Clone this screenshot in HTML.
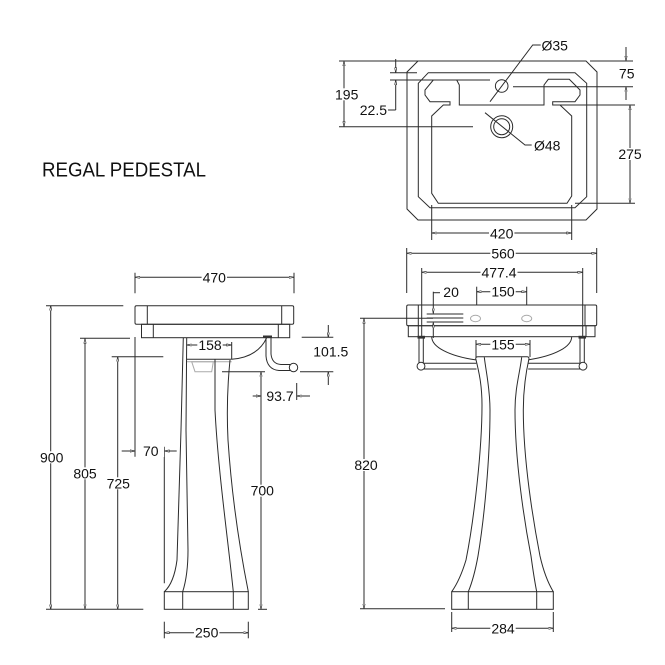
<!DOCTYPE html>
<html>
<head>
<meta charset="utf-8">
<style>
html,body{margin:0;padding:0;background:#fff;}
svg{display:block;}
line,path,polyline,polygon,rect,circle,ellipse{stroke:#2b2b2b;stroke-width:1;fill:none;}
text{font-family:"Liberation Sans",Arial,sans-serif;font-size:14px;fill:#111;}
.d{marker-start:url(#ar);marker-end:url(#ar);}
.e{marker-end:url(#ar);}
.bg{fill:#fff;stroke:none;}
.m{fill:#fff;stroke:#2b2b2b;stroke-width:0.7;}
.g{stroke:#aaa;}
.blk{fill:#333;stroke:none;}
.wf{fill:#fff;}
</style>
</head>
<body>
<svg width="665" height="665" viewBox="0 0 665 665" xmlns="http://www.w3.org/2000/svg">
<defs>
<marker id="ar" viewBox="0 0 5 2.6" refX="5" refY="1.3" markerWidth="5" markerHeight="2.6" markerUnits="userSpaceOnUse" orient="auto-start-reverse">
<path class="m" d="M0,0.2 L5,1.3 L0,2.4 Z"/>
</marker>
</defs>

<!-- TITLE -->
<text x="42" y="176.7" style="font-size:20.5px" textLength="164" lengthAdjust="spacingAndGlyphs">REGAL PEDESTAL</text>

<!-- ================= PLAN VIEW ================= -->
<polygon points="418,61 586,61 597,72 597,209 586,220 418,220 407,209 407,72"/>
<polygon points="428.3,72.7 575,72.7 586.7,83.3 586.7,196.7 575,207.7 430,207.7 418.3,196.7 418.3,83.3"/>
<path d="M459.3,85 L459.3,105 L544,105 L544,85 L548.3,79.3 L569.3,79.3 L580,90 L580,95 L575,101.7 L552.7,101.7 L552.7,105 L560,105 L571.7,116 L571.7,196 L567,203.3 L438.3,203.3 L431.7,193.3 L431.7,116 L443.3,105 L450,105 L450,101.7 L430,101.7 L425,95 L425,90 L433.3,80 L456.7,80 Z"/>
<circle cx="501.7" cy="86" r="6.3"/>
<circle cx="501.7" cy="126.7" r="11"/>
<circle cx="501.7" cy="126.7" r="8"/>
<polyline points="490,101.7 532.7,45 540.7,45"/>
<polyline points="485,112.7 525,145 531.7,145"/>

<!-- 195 -->
<line x1="339" y1="61" x2="418" y2="61"/>
<line x1="339" y1="126.7" x2="473" y2="126.7"/>
<line class="d" x1="344" y1="61" x2="344" y2="126.7"/>
<!-- 22.5 -->
<line x1="390" y1="72.7" x2="417" y2="72.7"/>
<line x1="390" y1="80" x2="490" y2="80"/>
<line class="e" x1="395.7" y1="59" x2="395.7" y2="72.7"/>
<line class="e" x1="395.7" y1="110" x2="395.7" y2="80"/>
<line x1="388" y1="110" x2="395.7" y2="110"/>
<!-- 75 -->
<line x1="590" y1="61" x2="633" y2="61"/>
<line x1="513" y1="86.7" x2="633" y2="86.7"/>
<line class="e" x1="626" y1="47" x2="626" y2="61"/>
<line class="e" x1="626" y1="100" x2="626" y2="86.7"/>
<!-- 275 -->
<line x1="560" y1="105" x2="635" y2="105"/>
<line x1="575" y1="203.3" x2="635" y2="203.3"/>
<line class="d" x1="630" y1="105" x2="630" y2="203.3"/>
<!-- 420 -->
<line x1="431.7" y1="205" x2="431.7" y2="240"/>
<line x1="571.7" y1="205" x2="571.7" y2="240"/>
<line class="d" x1="431.7" y1="233" x2="571.7" y2="233"/>

<!-- ================= FRONT VIEW ================= -->
<!-- 560 -->
<line x1="406.7" y1="248" x2="406.7" y2="293"/>
<line x1="596.7" y1="248" x2="596.7" y2="293"/>
<line class="d" x1="406.7" y1="253.3" x2="596.7" y2="253.3"/>
<!-- 477.4 -->
<line x1="421.7" y1="268" x2="421.7" y2="337"/>
<line x1="582.7" y1="268" x2="582.7" y2="337"/>
<line class="d" x1="421.7" y1="272.3" x2="582.7" y2="272.3"/>
<!-- 150 -->
<line x1="476.7" y1="286.7" x2="476.7" y2="305"/>
<line x1="526.7" y1="286.7" x2="526.7" y2="305"/>
<line class="d" x1="476.7" y1="291.7" x2="526.7" y2="291.7"/>

<!-- basin front -->
<rect x="406.7" y="305" width="190" height="20.7" rx="1.5"/>
<line x1="418.3" y1="305" x2="418.3" y2="325.7"/>
<line x1="585" y1="305" x2="585" y2="325.7"/>
<rect x="408.3" y="325.7" width="186.7" height="11"/>
<line x1="418.3" y1="325.7" x2="418.3" y2="336.7"/>
<line x1="586" y1="325.7" x2="586" y2="336.7"/>
<ellipse class="g" cx="475.5" cy="318.5" rx="5" ry="3.2"/>
<ellipse class="g" cx="526.7" cy="318.5" rx="5" ry="3.2"/>
<line x1="426.7" y1="314" x2="463.3" y2="314"/>
<line x1="426.7" y1="318" x2="463.3" y2="318"/>
<line x1="426.7" y1="322" x2="463.3" y2="322"/>
<!-- 20 -->
<line class="e" x1="433.3" y1="291.7" x2="433.3" y2="313.3"/>
<line class="e" x1="433.3" y1="338" x2="433.3" y2="322.7"/>
<line x1="433.3" y1="292.7" x2="440" y2="292.7"/>

<!-- bowl arc -->
<path d="M431.7,336.7 A70,25 0 0 0 475.7,359.9"/>
<path d="M529,359.7 A70,25 0 0 0 571.7,336.7"/>
<!-- towel rail -->
<line x1="419" y1="337" x2="419" y2="363"/>
<line x1="423.3" y1="337" x2="423.3" y2="363"/>
<line x1="580" y1="337" x2="580" y2="363"/>
<line x1="584.3" y1="337" x2="584.3" y2="363"/>
<rect class="blk" x="417.5" y="335.8" width="7.5" height="2.8"/>
<rect class="blk" x="578.5" y="335.8" width="7.5" height="2.8"/>
<line x1="424" y1="363.3" x2="476.3" y2="363.3"/>
<line x1="424" y1="369" x2="476.5" y2="369"/>
<line x1="528.5" y1="363.3" x2="580" y2="363.3"/>
<line x1="528.2" y1="369" x2="580" y2="369"/>
<circle class="wf" cx="421" cy="366.2" r="3.9"/>
<circle class="wf" cx="583" cy="366.2" r="3.9"/>
<!-- 155 -->
<line x1="476" y1="340" x2="476" y2="357"/>
<line x1="530" y1="340" x2="530" y2="357"/>
<line class="d" x1="476" y1="344.3" x2="530" y2="344.3"/>

<!-- pedestal front -->
<path d="M475.7,358.5 Q475.7,356.7 478,356.7 L527,356.7 Q529,356.7 529,358.5"/>
<path d="M475.7,358.5 C479,372 482,385 482,405 C482,450 474,520 466,560 Q460,580 451.7,591.7"/>
<path d="M484.3,357.2 C486,372 490,388 490,410 C490,460 484,520 478,556 Q474,578 468.3,591.7"/>
<path d="M521.7,357.2 C520,372 515,388 515,410 C515,460 524,520 531,556 Q534,578 536.7,591.7"/>
<path d="M529,358.5 C526,372 523.3,388 523.3,410 C523.3,460 533,520 540,556 Q545,578 553.3,591.7"/>
<rect x="451.7" y="591.7" width="101.6" height="17.6"/>
<line x1="468.3" y1="591.7" x2="468.3" y2="609.3"/>
<line x1="536.7" y1="591.7" x2="536.7" y2="609.3"/>
<!-- 820 -->
<line x1="360" y1="318.3" x2="433" y2="318.3"/>
<line x1="360" y1="608.8" x2="445" y2="608.8"/>
<line class="d" x1="364" y1="318.3" x2="364" y2="608.8"/>
<!-- 284 -->
<line x1="451.7" y1="612" x2="451.7" y2="632"/>
<line x1="553.3" y1="612" x2="553.3" y2="632"/>
<line class="d" x1="451.7" y1="628.3" x2="553.3" y2="628.3"/>

<!-- ================= SIDE VIEW ================= -->
<!-- 470 -->
<line x1="135" y1="272.7" x2="135" y2="293.3"/>
<line x1="294" y1="272.7" x2="294" y2="293.3"/>
<line class="d" x1="135" y1="277.3" x2="294" y2="277.3"/>
<!-- basin side -->
<rect x="135" y="305.7" width="158.7" height="18.6" rx="1.5"/>
<line x1="147.3" y1="305.7" x2="147.3" y2="324.3"/>
<line x1="281.7" y1="305.7" x2="281.7" y2="324.3"/>
<rect x="141.5" y="324.3" width="148.2" height="13.4"/>
<line x1="153.3" y1="324.3" x2="153.3" y2="337.7"/>
<line x1="278.3" y1="324.3" x2="278.3" y2="337.7"/>
<!-- bowl curve & pedestal top -->
<path d="M266.7,337.7 Q258,357 231.7,359.3"/>
<line x1="186.7" y1="359.3" x2="231.7" y2="359.3"/>
<line class="g" x1="186.7" y1="361.7" x2="231.7" y2="361.7"/>
<polygon class="g" points="191.7,361.7 213.3,361.7 211.7,371.7 195,371.7"/>
<!-- trap -->
<rect class="blk" x="263" y="335.5" width="9" height="2.5"/>
<path d="M266,338 L266,356 Q267,369.5 279,370.5 L290,370.5"/>
<path d="M271,338 L271,354 Q272,364 281,364.5 L290,364.5"/>
<circle class="wf" cx="293.5" cy="367.5" r="4.2"/>
<!-- pedestal side -->
<path d="M183.3,337.7 L181,430 L177,560 Q174,583 164.3,591.7"/>
<path d="M186.7,337.7 L186,430 L188,550 Q188,575 182.7,591.7"/>
<path d="M215,359.3 L215,410 C218,470 228,540 233.3,591.7"/>
<path d="M230,360 C227,390 227,420 228,440 C232,500 240,550 248.3,591.7"/>
<rect x="164.3" y="591.7" width="84" height="17.6"/>
<line x1="182.7" y1="591.7" x2="182.7" y2="609.3"/>
<line x1="233.3" y1="591.7" x2="233.3" y2="609.3"/>
<!-- 158 -->
<line x1="231.7" y1="342" x2="231.7" y2="359"/>
<line class="d" x1="186.7" y1="345" x2="231.7" y2="345"/>
<!-- 101.5 -->
<line x1="301.7" y1="337.3" x2="333.3" y2="337.3"/>
<line x1="300" y1="371.7" x2="333.3" y2="371.7"/>
<line class="e" x1="328.3" y1="325" x2="328.3" y2="337.3"/>
<line class="e" x1="328.3" y1="385" x2="328.3" y2="371.7"/>
<!-- 93.7 -->
<line x1="296.7" y1="383" x2="296.7" y2="400"/>
<line class="e" x1="252.7" y1="396" x2="261" y2="396"/>
<line class="e" x1="310" y1="396" x2="296.7" y2="396"/>
<!-- 700 -->
<line x1="222" y1="371.7" x2="265" y2="371.7"/>
<line x1="258" y1="609.3" x2="267" y2="609.3"/>
<line class="d" x1="261" y1="371.7" x2="261" y2="609.3"/>
<!-- 900 / 805 / 725 -->
<line x1="46" y1="305.7" x2="123.3" y2="305.7"/>
<line x1="80" y1="338.3" x2="130" y2="338.3"/>
<line x1="111.7" y1="356.7" x2="163.3" y2="356.7"/>
<line x1="46" y1="609.3" x2="143.3" y2="609.3"/>
<line class="d" x1="50.7" y1="305.7" x2="50.7" y2="609.3"/>
<line class="d" x1="85" y1="338.3" x2="85" y2="609.3"/>
<line class="d" x1="117.7" y1="356.7" x2="117.7" y2="609.3"/>
<!-- 70 -->
<line x1="135" y1="337" x2="135" y2="456.7"/>
<line x1="164.3" y1="446.7" x2="164.3" y2="583.3"/>
<line class="e" x1="121.7" y1="451" x2="135" y2="451"/>
<line class="e" x1="176.7" y1="451" x2="164.3" y2="451"/>
<line x1="160" y1="451" x2="164.3" y2="451"/>
<!-- 250 -->
<line x1="164.3" y1="621.7" x2="164.3" y2="638.3"/>
<line x1="248.3" y1="621.7" x2="248.3" y2="638.3"/>
<line class="d" x1="164.3" y1="632.7" x2="248.3" y2="632.7"/>

<!-- ================= TEXT BACKGROUNDS ================= -->
<rect class="bg" x="201.6" y="271.3" width="25.4" height="12"/>
<rect class="bg" x="197.3" y="339" width="25.4" height="12"/>
<rect class="bg" x="137.5" y="445" width="26.6" height="12"/>
<rect class="bg" x="39" y="451.3" width="25.4" height="12"/>
<rect class="bg" x="72.3" y="467.3" width="25.4" height="12"/>
<rect class="bg" x="105.6" y="477.3" width="25.4" height="12"/>
<rect class="bg" x="249.6" y="484.7" width="25.4" height="12"/>
<rect class="bg" x="194" y="626.7" width="25.4" height="12"/>
<rect class="bg" x="490.3" y="247.3" width="25.4" height="12"/>
<rect class="bg" x="480.5" y="266.5" width="37" height="12"/>
<rect class="bg" x="490.3" y="285.7" width="25.4" height="12"/>
<rect class="bg" x="490.3" y="338.3" width="25.4" height="12"/>
<rect class="bg" x="353.3" y="459" width="25.4" height="12"/>
<rect class="bg" x="490.3" y="622.3" width="25.4" height="12"/>
<rect class="bg" x="334" y="88.3" width="25.4" height="12"/>
<rect class="bg" x="617.3" y="148" width="25.4" height="12"/>
<rect class="bg" x="489" y="227.3" width="25.4" height="12"/>

<!-- ================= TEXT ================= -->
<g text-anchor="middle">
<text x="214.3" y="282.3">470</text>
<text x="210" y="350">158</text>
<text x="330.8" y="356.7">101.5</text>
<text x="280" y="401">93.7</text>
<text x="150.8" y="456">70</text>
<text x="51.7" y="462.3">900</text>
<text x="85" y="478.3">805</text>
<text x="118.3" y="488.3">725</text>
<text x="262.3" y="495.7">700</text>
<text x="206.7" y="637.7">250</text>
<text x="503" y="258.3">560</text>
<text x="499" y="277.5">477.4</text>
<text x="503" y="296.7">150</text>
<text x="503" y="349.3">155</text>
<text x="366" y="470">820</text>
<text x="503" y="633.3">284</text>
<text x="346.7" y="99.3">195</text>
<text x="626.7" y="78.3">75</text>
<text x="630" y="159">275</text>
<text x="501.7" y="238.3">420</text>
</g>
<text x="443.3" y="297">20</text>
<text x="387" y="115" text-anchor="end">22.5</text>
<text x="541.5" y="50.7">Ø35</text>
<text x="534" y="150.7">Ø48</text>
</svg>
</body>
</html>
